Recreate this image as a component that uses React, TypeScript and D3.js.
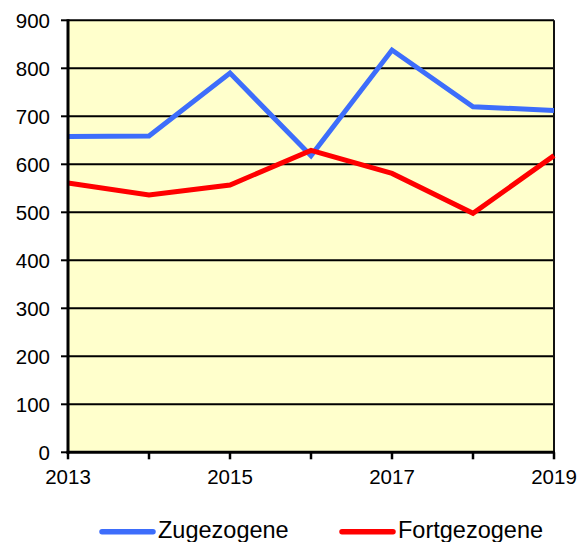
import React from 'react';
import * as d3 from 'd3';

// values
const years = [2013, 2014, 2015, 2016, 2017, 2018, 2019];
const zugezogene = [658, 659, 790, 618, 838, 720, 712];
const fortgezogene = [561, 536, 557, 629, 581, 498, 618];
const yTicks = [0, 100, 200, 300, 400, 500, 600, 700, 800, 900];
const xLabels = [2013, 2015, 2017, 2019];

const series = [
    {name: 'Zugezogene', values: zugezogene, color: '#3d6dfb'},
    {name: 'Fortgezogene', values: fortgezogene, color: '#ff0000'}
];

const W = 588;
const H = 542;
const plot = {left: 68, right: 554, top: 20.3, bottom: 452.3};
const font = '"Liberation Sans", Arial, sans-serif';

export default function App() {
    const x = d3.scaleLinear().domain([2013, 2019]).range([plot.left, plot.right]);
    const y = d3.scaleLinear().domain([0, 900]).range([plot.bottom, plot.top]);

    const line = d3.line<number>()
        .x((d, i) => x(years[i]))
        .y(d => y(d));

    return (
        <svg width={W} height={H} style={{position: 'absolute', left: 0, top: 0}} fontFamily={font}>
            <rect x={plot.left} y={plot.top} width={plot.right - plot.left} height={plot.bottom - plot.top} fill='#ffffcc' />

            {/* horizontal grid */}
            {yTicks.filter(t => t > 0).map(t => (
                <line key={'g' + t} x1={plot.left} x2={plot.right} y1={y(t)} y2={y(t)} stroke='#000' strokeWidth={2} />
            ))}
            {/* right border */}
            <line x1={plot.right} x2={plot.right} y1={plot.top} y2={plot.bottom} stroke='#111' strokeWidth={2} />

            {/* series */}
            {series.map(s => (
                <path key={s.name} d={line(s.values) || ''} fill='none' stroke={s.color} strokeWidth={5} />
            ))}

            {/* axes */}
            <line x1={plot.left} x2={plot.left} y1={plot.top - 1} y2={plot.bottom + 1.5} stroke='#000' strokeWidth={3} />
            <line x1={plot.left - 1.5} x2={plot.right + 1} y1={plot.bottom} y2={plot.bottom} stroke='#000' strokeWidth={3} />

            {yTicks.map(t => (
                <g key={'y' + t}>
                    <line x1={plot.left - 7} x2={plot.left} y1={y(t)} y2={y(t)} stroke='#000' strokeWidth={2} />
                    <text x={50} y={y(t) + 7.2} textAnchor='end' fontSize={20.5} fill='#000'>{t}</text>
                </g>
            ))}
            {years.map(yr => (
                <line key={'x' + yr} x1={x(yr)} x2={x(yr)} y1={plot.bottom} y2={plot.bottom + 7} stroke='#000' strokeWidth={2.5} />
            ))}
            {xLabels.map(yr => (
                <text key={'xl' + yr} x={x(yr)} y={484} textAnchor='middle' fontSize={20.5} fill='#000'>{yr}</text>
            ))}

            {/* legend */}
            {series.map((s, i) => {
                const lx = i === 0 ? 100 : 340;
                return (
                    <g key={'leg' + s.name}>
                        <line x1={lx + 2} x2={lx + 53} y1={531.7} y2={531.7} stroke={s.color} strokeWidth={5.5} strokeLinecap='round' />
                        <text x={lx + 58} y={537.5} fontSize={23.5} fill='#000'>{s.name}</text>
                    </g>
                );
            })}
        </svg>
    );
}
